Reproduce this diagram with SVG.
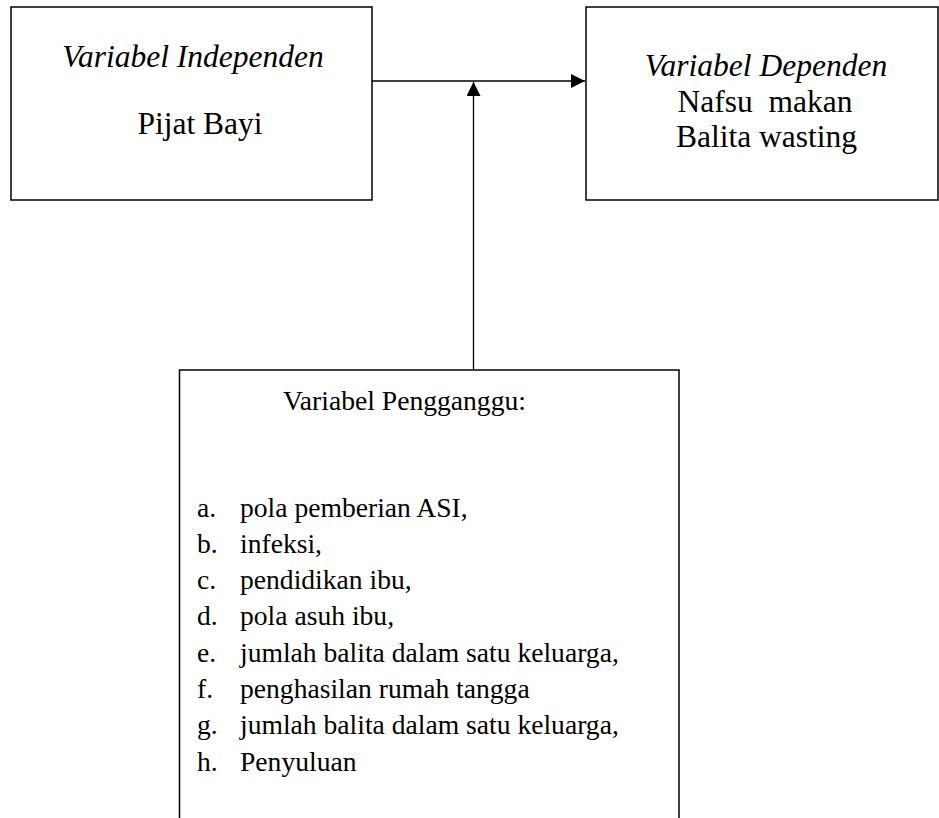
<svg xmlns="http://www.w3.org/2000/svg" width="939" height="818" viewBox="0 0 939 818">
<style>
.box{fill:#fff;stroke:#000;stroke-width:1.5}
.t{font-family:"Liberation Serif","Times New Roman",serif;fill:#000}
.big{font-size:31.5px}
.sm{font-size:27.6px}
.it{font-style:italic}
.ln{stroke:#000;stroke-width:1.3;fill:none}
</style>
<defs>
<marker id="ah" viewBox="0 0 10 10" refX="10" refY="5" markerWidth="17" markerHeight="14" markerUnits="userSpaceOnUse" orient="auto">
<path d="M0,0 L10,5 L0,10 Z" fill="#000"/>
</marker>
</defs>
<g id="connectors">
<line class="ln" x1="372" y1="81" x2="585" y2="81" marker-end="url(#ah)"/>
<line class="ln" x1="473.5" y1="370" x2="473.5" y2="82" marker-end="url(#ah)"/>
</g>
<g id="independen">
<rect class="box" x="11" y="7" width="361" height="193"/>
<text class="t big it" x="193" y="67" text-anchor="middle">Variabel Independen</text>
<text class="t big" x="200" y="133.5" text-anchor="middle">Pijat Bayi</text>
</g>
<g id="dependen">
<rect class="box" x="586" y="7" width="352" height="193"/>
<text class="t big it" x="766" y="76" text-anchor="middle">Variabel Dependen</text>
<text class="t big" x="765" y="111.5" text-anchor="middle" xml:space="preserve">Nafsu  makan</text>
<text class="t big" x="766.5" y="147" text-anchor="middle">Balita wasting</text>
</g>
<g id="pengganggu">
<rect class="box" x="179.5" y="370" width="499.5" height="460"/>
<text class="t sm" x="283" y="410">Variabel Pengganggu:</text>
<g class="t sm">
<text x="197" y="516.7">a.</text><text x="240" y="516.7">pola pemberian ASI,</text>
<text x="197" y="552.5">b.</text><text x="240" y="552.5">infeksi,</text>
<text x="197" y="588.8">c.</text><text x="240" y="588.8">pendidikan ibu,</text>
<text x="197" y="625.2">d.</text><text x="240" y="625.2">pola asuh ibu,</text>
<text x="197" y="661.6">e.</text><text x="240" y="661.6">jumlah balita dalam satu keluarga,</text>
<text x="197" y="698">f.</text><text x="240" y="698">penghasilan rumah tangga</text>
<text x="197" y="734.4">g.</text><text x="240" y="734.4">jumlah balita dalam satu keluarga,</text>
<text x="197" y="770.8">h.</text><text x="240" y="770.8">Penyuluan</text>
</g>
</g>
</svg>
